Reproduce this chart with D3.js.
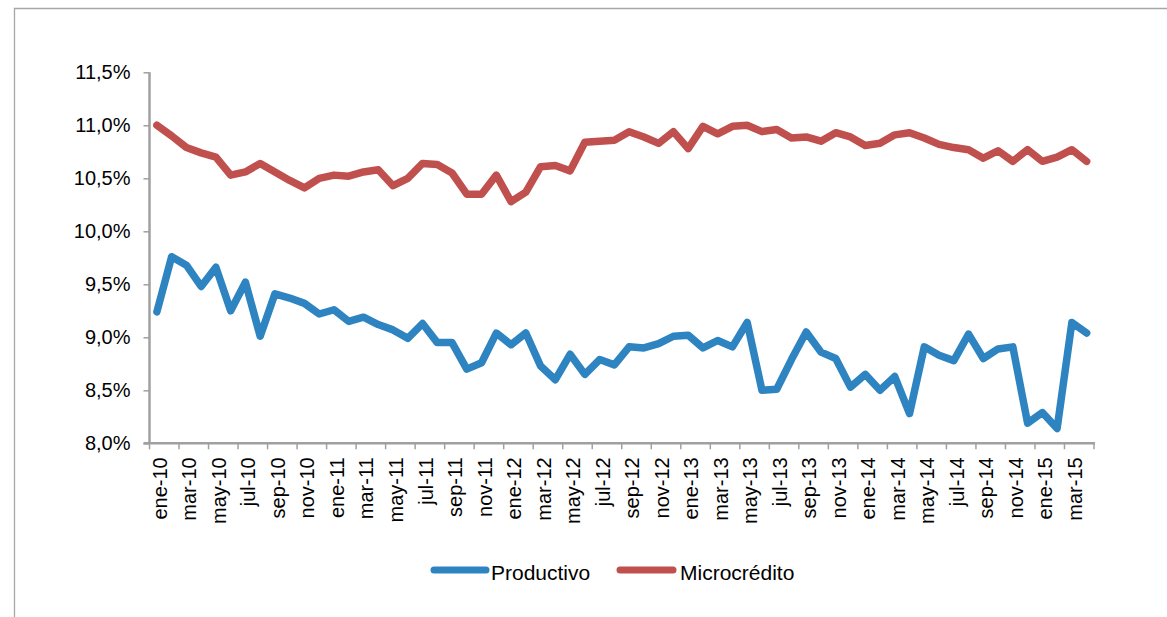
<!DOCTYPE html>
<html>
<head>
<meta charset="utf-8">
<script src="https://cdn.jsdelivr.net/npm/d3@7"></script>
<style>
  html, body { margin: 0; padding: 0; background: #fff; }
  svg { display: block; font-family: "Liberation Sans", Arial, sans-serif; }
</style>
</head>
<body>
<svg id="chart" width="1167" height="617"></svg>
<script>
// ---- data ----
const monthNames = ["ene","feb","mar","abr","may","jun","jul","ago","sep","oct","nov","dic"];
const categories = [];
for (let yy = 10; yy <= 15; yy++) {
  for (let m = 0; m < 12; m++) {
    if (yy === 15 && m > 3) break;
    categories.push(monthNames[m] + "-" + yy);
  }
}
const productivo = [
  9.24, 9.76, 9.68, 9.48, 9.66, 9.25, 9.52, 9.01, 9.41, 9.37,
  9.32, 9.22, 9.26, 9.15, 9.19, 9.12, 9.07, 8.99, 9.13, 8.95,
  8.95, 8.70, 8.76, 9.04, 8.93, 9.04, 8.73, 8.60, 8.84, 8.65,
  8.79, 8.74, 8.91, 8.90, 8.94, 9.01, 9.02, 8.90, 8.97, 8.91,
  9.14, 8.50, 8.51, 8.79, 9.05, 8.86, 8.80, 8.53, 8.65, 8.50,
  8.63, 8.28, 8.91, 8.83, 8.78, 9.03, 8.80, 8.89, 8.91, 8.19,
  8.29, 8.14, 9.14, 9.04
];
const microcredito = [
  11.00, 10.90, 10.79, 10.74, 10.70, 10.53, 10.56, 10.64, 10.56, 10.48,
  10.41, 10.50, 10.53, 10.52, 10.56, 10.58, 10.43, 10.50, 10.64, 10.63,
  10.55, 10.35, 10.35, 10.53, 10.28, 10.37, 10.61, 10.62, 10.57, 10.84,
  10.85, 10.86, 10.94, 10.89, 10.83, 10.94, 10.78, 10.99, 10.92, 10.99,
  11.00, 10.94, 10.96, 10.88, 10.89, 10.85, 10.93, 10.89, 10.81, 10.83,
  10.91, 10.93, 10.88, 10.82, 10.79, 10.77, 10.69, 10.76, 10.66, 10.77,
  10.66, 10.70, 10.77, 10.66
];
const yTicks = [8.0, 8.5, 9.0, 9.5, 10.0, 10.5, 11.0, 11.5];
const seriesNames = ["Productivo", "Microcrédito"];
const seriesColors = ["#2E83C1", "#C0504D"];

// ---- layout ----
const svg = d3.select("#chart");
const pLeft = 149.5, pRight = 1094, pTop = 72.3, pBottom = 443.3;
const axisColor = "#A0A0A0";

// frame
svg.append("path")
  .attr("d", "M14.5,620 V8.5 H1170")
  .attr("fill", "none").attr("stroke", "#A6A6A6").attr("stroke-width", 1.3);

const x = d3.scaleBand().domain(categories).range([pLeft, pRight]).paddingInner(0).paddingOuter(0);
const y = d3.scaleLinear().domain([8, 11.5]).range([pBottom, pTop]);
const cx = d => x(d) + x.bandwidth() / 2;

// y axis
const fmt = v => d3.format(".1f")(v).replace(".", ",") + "%";
const yAxis = svg.append("g").attr("transform", `translate(${pLeft},0)`)
  .call(d3.axisLeft(y).tickValues(yTicks).tickFormat(fmt).tickSize(6).tickPadding(13));
yAxis.select(".domain").attr("stroke", axisColor).attr("stroke-width", 2.5)
  .attr("d", `M0,${pTop}V${pBottom}`);
yAxis.selectAll(".tick line").attr("stroke", axisColor).attr("stroke-width", 1.5);
yAxis.selectAll(".tick text").attr("fill", "#000").style("font-size", "20px")
  .style("font-family", "'Liberation Sans', Arial, sans-serif");

// x axis: ticks between every two categories
const xg = svg.append("g");
const tickCats = categories.filter((d, i) => i % 2 === 0);
xg.append("line").attr("x1", pLeft - 6).attr("x2", pRight + 1)
  .attr("y1", pBottom).attr("y2", pBottom)
  .attr("stroke", axisColor).attr("stroke-width", 2.5);
const tickPos = tickCats.map(d => x(d)).concat([pRight]);
xg.selectAll("line.tk").data(tickPos).join("line").attr("class", "tk")
  .attr("x1", d => d).attr("x2", d => d)
  .attr("y1", pBottom).attr("y2", pBottom + 6)
  .attr("stroke", axisColor).attr("stroke-width", 1.5);
xg.selectAll("text").data(tickCats).join("text")
  .attr("transform", d => `translate(${cx(d) + 3},${pBottom + 14}) rotate(-90)`)
  .attr("text-anchor", "end").attr("dy", "0.35em")
  .style("font-size", "20px").attr("fill", "#000")
  .text(d => d);

// lines
const line = d3.line().x((d, i) => cx(categories[i])).y(d => y(d));
[productivo, microcredito].forEach((s, k) => {
  svg.append("path").datum(s)
    .attr("d", line)
    .attr("fill", "none")
    .attr("stroke", seriesColors[k])
    .attr("stroke-width", 7.5)
    .attr("stroke-linejoin", "round")
    .attr("stroke-linecap", "round");
});

// legend
const legendItems = [
  { name: seriesNames[0], color: seriesColors[0], x0: 434, x1: 486, tx: 491 },
  { name: seriesNames[1], color: seriesColors[1], x0: 620, x1: 673, tx: 680 }
];
const lg = svg.append("g");
legendItems.forEach(it => {
  lg.append("line").attr("x1", it.x0).attr("x2", it.x1).attr("y1", 570).attr("y2", 570)
    .attr("stroke", it.color).attr("stroke-width", 7).attr("stroke-linecap", "round");
  lg.append("text").attr("x", it.tx).attr("y", 573).attr("dy", "0.35em")
    .style("font-size", "21px").attr("fill", "#000").text(it.name);
});
</script>
</body>
</html>
